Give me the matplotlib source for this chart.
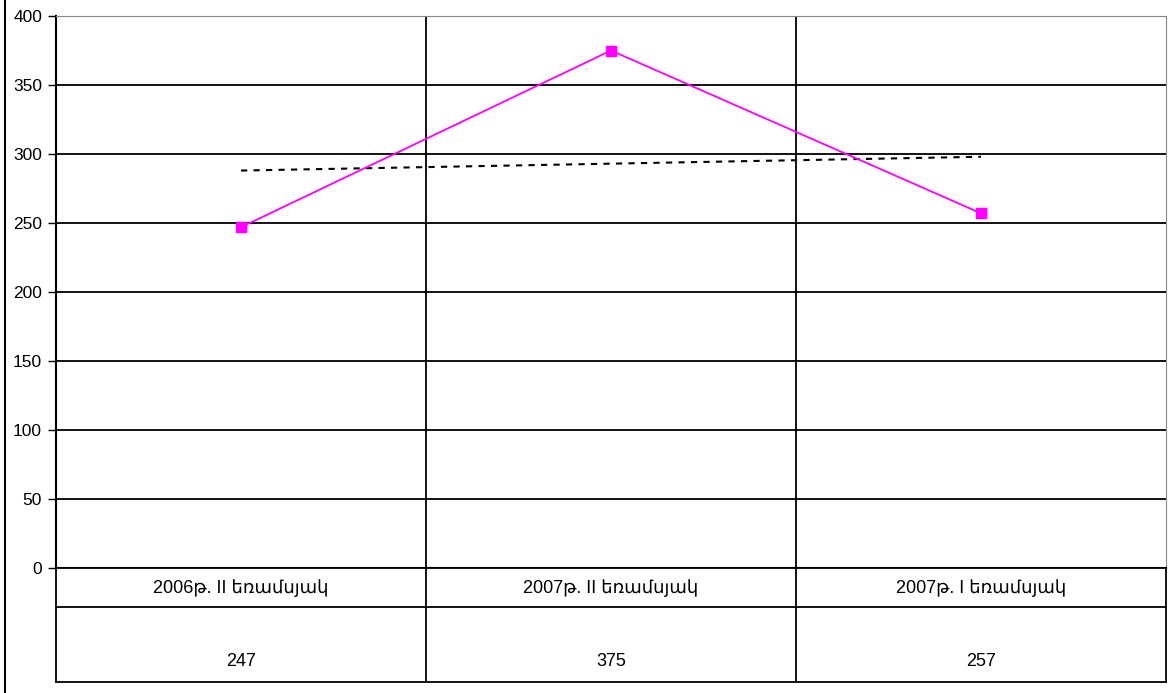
import numpy as np
import matplotlib.pyplot as plt
from matplotlib.lines import Line2D

categories = ['2006թ. II եռամսյակ', '2007թ. II եռամսյակ', '2007թ. I եռամսյակ']
values = [247, 375, 257]
yticks = [0, 50, 100, 150, 200, 250, 300, 350, 400]

plt.rcParams['font.family'] = ['Liberation Sans', 'DejaVu Sans']

W, H = 1168, 693
fig = plt.figure(figsize=(W/100, H/100), dpi=100)

# plot area in pixels
left, right, top, zero, bottom = 56, 1166, 16, 568, 682
ax = fig.add_axes([left/W, (H-zero)/H, (right-left)/W, (zero-top)/H])
x = np.arange(len(values))
ax.set_xlim(-0.5, len(values) - 0.5)
ax.set_ylim(0, 400)
ax.set_yticks(yticks)
ax.set_xticks([])
for y in yticks[1:-1]:
    ax.axhline(y, color='black', lw=1.3)
for b in x[:-1] + 0.5:
    ax.axvline(b, color='black', lw=1.3)
ax.tick_params(axis='y', length=6, width=1, labelsize=12.5, pad=4)
for s in ['left', 'bottom']:
    ax.spines[s].set_linewidth(1.5)
ax.spines['top'].set_color('#888888')
ax.spines['right'].set_color('#888888')

ax.plot(x, values, color='#ff00ff', lw=1.3, marker='s', markersize=7, zorder=3)

# linear trend line
k, c = np.polyfit(x, values, 1)
ax.plot(x, k*x + c, color='black', lw=1.5, linestyle=(0, (3, 3)), zorder=2)

# data table under the chart
tab = fig.add_axes([left/W, (H-bottom)/H, (right-left)/W, (bottom-zero)/H])
tab.set_xlim(-0.5, len(values) - 0.5)
tab.set_ylim(0, 1)
tab.set_xticks([])
tab.set_yticks([])
for s in tab.spines.values():
    s.set_linewidth(1.3)
row = (bottom - 607) / (bottom - zero)
tab.axhline(row, color='black', lw=1.3)
for b in x[:-1] + 0.5:
    tab.axvline(b, color='black', lw=1.3)
for i, (cat, v) in enumerate(zip(categories, values)):
    tab.text(i, (bottom - 588) / (bottom - zero), cat, ha='center', va='center', fontsize=13)
    tab.text(i, (bottom - 662) / (bottom - zero), str(v), ha='center', va='center', fontsize=13)

fig.add_artist(Line2D([4.5/W, 4.5/W], [0, 1], color='black', lw=1.5))

fig.savefig('out.png', dpi=100)
